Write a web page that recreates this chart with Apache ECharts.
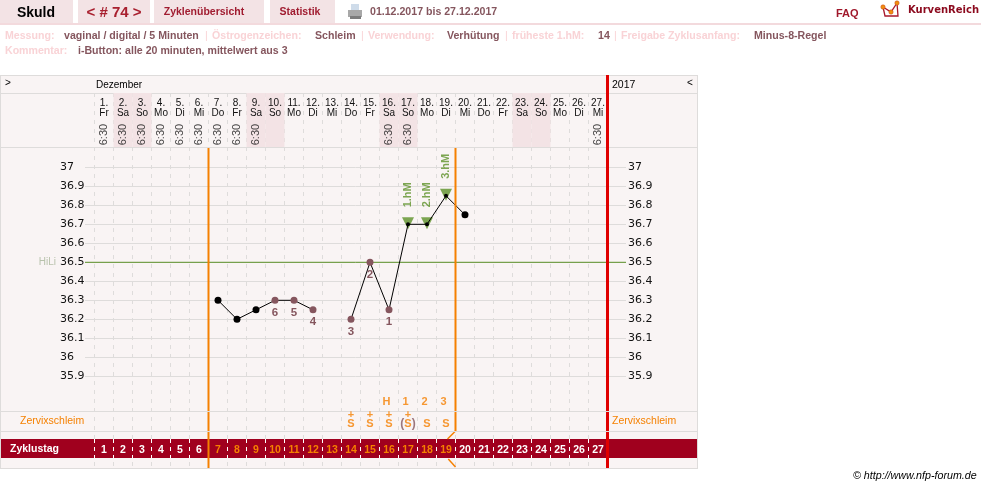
<!DOCTYPE html>
<html>
<head>
    <meta charset="UTF-8">
    <title>Skuld Zyklus 74</title>
    <script src="https://cdn.jsdelivr.net/npm/echarts@6/dist/echarts.min.js"></script>
    <style>
        html, body { margin: 0; padding: 0; background: #fff; }
        #chart { width: 981px; height: 488px; }
    </style>
</head>
<body>
<div id="chart"></div>
<script>
    // data
    var days = [];
    for (var n = 1; n <= 27; n++) days.push(n);
    var weekdays = ['Fr','Sa','So','Mo','Di','Mi','Do','Fr','Sa','So','Mo','Di','Mi','Do','Fr','Sa','So','Mo','Di','Mi','Do','Fr','Sa','So','Mo','Di','Mi'];
    var weekendDays = [2, 3, 9, 10, 16, 17, 23, 24];
    var timeDays = [1, 2, 3, 4, 5, 6, 7, 8, 9, 16, 17, 27];
    var temps = [null, null, null, null, null, null, 36.3, 36.2, 36.25, 36.3, 36.3, 36.25, null, 36.2, 36.5, 36.25, 36.7, 36.7, 36.85, 36.75,
        null, null, null, null, null, null, null];
    var countDays = [10, 11, 12, 14, 15, 16];
    var countLabels = ['6', '5', '4', '3', '2', '1'];
    var hmDays = [17, 18, 19];
    var hmLabels = ['1.hM', '2.hM', '3.hM'];
    var plusDays = [14, 15, 16, 17];
    var mucusDays = [14, 15, 16, 17, 18, 19];
    var peakDays = [16, 17, 18, 19];
    var peakLabels = ['H', '1', '2', '3'];
    var orangeFromDay = 7, orangeToDay = 19;
    var hiLi = 36.5;

    var FONT = '"Liberation Sans", Arial, sans-serif';
    var MAUVE = '#85565e', PALE = '#f9d3d6', ORANGE = '#f58000', GREEN = '#5c9128', RED = '#e00000', DARK = '#a0001e';
    var TAB = '#f3e3e5', LINE = '#dedcdb', BG = '#f9f4f4';

    function txt(x, y, s, size, color, weight, align, extra) {
        var style = { x: x, y: y, text: s, fontSize: size, fill: color, fontWeight: weight || 'normal',
            fontFamily: FONT, textAlign: align || 'left', textVerticalAlign: 'middle' };
        if (extra) for (var k in extra) style[k] = extra[k];
        return { type: 'text', z: 10, style: style };
    }
    function rect(x, y, w, h, color, z) {
        return { type: 'rect', z: z, shape: { x: x, y: y, width: w, height: h }, style: { fill: color } };
    }

    var chrome = [
        rect(0, 75, 698, 394, LINE, -12),
        rect(1, 76, 696, 392, BG, -11),
        rect(0, 93, 698, 1, LINE, -5),
        rect(0, 147, 698, 1, LINE, -5),
        rect(0, 411, 698, 1, LINE, 7),
        rect(0, 431, 698, 1, LINE, 7),
        rect(1, 439, 696, 19, DARK, 1),
        rect(0, 0, 73, 23, TAB, -5),
        rect(78, 0, 72, 23, TAB, -5),
        rect(154, 0, 110, 23, TAB, -5),
        rect(270, 0, 65, 23, TAB, -5),
        rect(0, 23, 981, 2, '#f3dadd', -5),
        // printer icon
        rect(351, 4, 8, 6, '#cfdcea', 3),
        rect(348, 10, 14, 7, '#a8a8a8', 3),
        rect(350, 16, 11, 3, '#7c7c7c', 3),
        // logo
        { type: 'polyline', z: 3, shape: { points: [[883, 7], [885, 16], [898, 16], [897, 3]] }, style: { fill: null, stroke: '#a8182c', lineWidth: 1.3 } },
        { type: 'polyline', z: 3, shape: { points: [[883, 7], [891, 12], [897, 3]] }, style: { fill: null, stroke: '#a8182c', lineWidth: 1.3 } },
        { type: 'circle', z: 4, shape: { cx: 883, cy: 7, r: 2.2 }, style: { fill: '#f09010', stroke: '#c84018', lineWidth: 0.5 } },
        { type: 'circle', z: 4, shape: { cx: 891, cy: 12, r: 2.2 }, style: { fill: '#f09010', stroke: '#c84018', lineWidth: 0.5 } },
        { type: 'circle', z: 4, shape: { cx: 897, cy: 3, r: 2.2 }, style: { fill: '#f09010', stroke: '#c84018', lineWidth: 0.5 } },
        txt(36, 13, 'Skuld', 14, '#000', 'bold', 'center'),
        txt(114, 13, '< # 74 >', 15, '#a8202f', 'bold', 'center'),
        txt(204, 12, 'Zyklenübersicht', 10.5, '#a01c30', 'bold', 'center'),
        txt(300, 12, 'Statistik', 10.5, '#a01c30', 'bold', 'center'),
        txt(370, 12, '01.12.2017 bis 27.12.2017', 10.6, MAUVE, 'bold'),
        txt(836, 14, 'FAQ', 11, '#a0182b', 'bold'),
        txt(908, 10, 'KurvenReich', 10, '#8c0a1e', 'bold', 'left', { fontFamily: '"DejaVu Sans"' }),
        txt(5, 36, 'Messung:', 10.6, PALE, 'bold'),
        txt(64, 36, 'vaginal / digital / 5 Minuten', 10.6, MAUVE, 'bold'),
        txt(205, 36, '|', 10.6, PALE),
        txt(212, 36, 'Östrogenzeichen:', 10.6, PALE, 'bold'),
        txt(315, 36, 'Schleim', 10.6, MAUVE, 'bold'),
        txt(361, 36, '|', 10.6, PALE),
        txt(368, 36, 'Verwendung:', 10.6, PALE, 'bold'),
        txt(447, 36, 'Verhütung', 10.6, MAUVE, 'bold'),
        txt(505, 36, '|', 10.6, PALE),
        txt(512, 36, 'früheste 1.hM:', 10.6, PALE, 'bold'),
        txt(598, 36, '14', 10.6, MAUVE, 'bold'),
        txt(614, 36, '|', 10.6, PALE),
        txt(621, 36, 'Freigabe Zyklusanfang:', 10.6, PALE, 'bold'),
        txt(754, 36, 'Minus-8-Regel', 10.6, MAUVE, 'bold'),
        txt(5, 51, 'Kommentar:', 10.6, PALE, 'bold'),
        txt(78, 51, 'i-Button: alle 20 minuten, mittelwert aus 3', 10.6, MAUVE, 'bold'),
        txt(5, 83, '>', 10, '#000'),
        txt(96, 85, 'Dezember', 10, '#000'),
        txt(612, 85, '2017', 10.5, '#000'),
        txt(687, 83, '<', 10, '#000'),
        txt(20, 421, 'Zervixschleim', 10.5, ORANGE),
        txt(612, 421, 'Zervixschleim', 10.5, ORANGE),
        txt(10, 449.5, 'Zyklustag', 10.5, '#fff', 'bold'),
        txt(853, 476, '© http://www.nfp-forum.de', 10.7, '#000', 'normal', 'left', { fontStyle: 'italic' })
    ];

    var hiddenValue = function (gridIndex, min, max, inverse) {
        return { type: 'value', gridIndex: gridIndex, min: min, max: max, inverse: !!inverse, show: false, splitLine: { show: false } };
    };
    var tempLabel = { fontFamily: '"DejaVu Sans"', fontSize: 11, color: '#111', align: 'left' };

    var tempData = temps.map(function (t, i) {
        var day = i + 1;
        var c = countDays.indexOf(day);
        var hm = hmDays.indexOf(day) >= 0;
        return {
            value: t,
            symbolSize: hm ? 4 : 7,
            itemStyle: { color: c >= 0 ? MAUVE : '#000' },
            label: {
                show: c >= 0, formatter: c >= 0 ? countLabels[c] : '', position: 'bottom', distance: 3,
                color: MAUVE, fontFamily: FONT, fontSize: 11.5, fontWeight: 'bold'
            }
        };
    });

    function dayPos(d) { return d - 0.5; }
    function vline(x, y0, y1, color, width) {
        return { type: 'line', xAxisIndex: 4, yAxisIndex: 5, symbol: 'none', silent: true, z: 6,
            lineStyle: { color: color, width: width }, data: [[x, y0], [x, y1]] };
    }
    function slash(x0, y0, x1, y1) {
        return { type: 'line', xAxisIndex: 4, yAxisIndex: 5, symbol: 'none', silent: true, z: 6,
            lineStyle: { color: ORANGE, width: 1.5 }, data: [[x0, y0], [x1, y1]] };
    }
    function rowLabels(name, xs, y, fmt, extra) {
        var label = { show: true, position: 'inside', formatter: fmt, color: ORANGE, fontFamily: FONT, fontSize: 11, fontWeight: 'bold' };
        if (extra) for (var k in extra) label[k] = extra[k];
        return { type: 'scatter', name: name, xAxisIndex: 4, yAxisIndex: 5, symbolSize: 0, silent: true, z: 8,
            data: xs.map(function (d) { return [dayPos(d), y]; }), label: label };
    }

    var option = {
        animation: false,
        backgroundColor: '#fff',
        graphic: { elements: chrome },
        grid: [
            { left: 85, width: 541, top: 167.3, height: 209 },    // horizontal scale lines
            { left: 94.5, width: 513, top: 167.3, height: 209 },  // temperature curve
            { left: 94.5, width: 513, top: 93, height: 54 },      // date header
            { left: 94.5, width: 513, top: 93, height: 375 },     // dashed day columns
            { left: 94.5, width: 513, top: 75, height: 393 },     // full height rows
            { left: 94.5, width: 513, top: 439, height: 19 }      // Zyklustag
        ],
        xAxis: [
            hiddenValue(0, 0, 1),
            { type: 'category', gridIndex: 1, data: days, show: false },
            {
                type: 'category', gridIndex: 2, data: days, position: 'top', z: 5,
                axisLine: { show: false }, axisTick: { show: false },
                axisLabel: {
                    inside: true, interval: 0, margin: 5, fontFamily: FONT, fontSize: 10, lineHeight: 10, color: '#111',
                    verticalAlign: 'top',
                    formatter: function (v, i) { return v + '.\n' + weekdays[i]; }
                }
            },
            {
                type: 'value', gridIndex: 3, min: 0, max: 27, interval: 1,
                axisLine: { show: false }, axisTick: { show: false }, axisLabel: { show: false },
                splitLine: { show: true, lineStyle: { color: LINE, type: [4, 5], width: 1 } }
            },
            hiddenValue(4, 0, 27),
            {
                type: 'category', gridIndex: 5, data: days, z: 5,
                axisLine: { show: false }, axisTick: { show: false },
                axisLabel: {
                    inside: true, interval: 0, margin: 2, fontFamily: FONT, fontSize: 10.5, fontWeight: 'bold',
                    verticalAlign: 'bottom',
                    color: function (v) { return (+v >= orangeFromDay && +v <= orangeToDay) ? ORANGE : '#fff'; }
                },
                splitLine: { show: true, interval: 0, lineStyle: { color: '#fff', type: [4, 4], width: 1 } }
            }
        ],
        yAxis: [
            {
                type: 'value', gridIndex: 0, min: 35.9, max: 37, interval: 0.1, position: 'left',
                axisLine: { show: false }, axisTick: { show: false },
                axisLabel: Object.assign({ margin: 25 }, tempLabel),
                splitLine: { show: true, lineStyle: { color: LINE, width: 1 } }
            },
            {
                type: 'value', gridIndex: 0, min: 35.9, max: 37, interval: 0.1, position: 'right',
                axisLine: { show: false }, axisTick: { show: false },
                axisLabel: Object.assign({ margin: 2 }, tempLabel),
                splitLine: { show: false }
            },
            hiddenValue(1, 35.9, 37),
            hiddenValue(2, 0, 1),
            hiddenValue(3, 0, 1),
            hiddenValue(4, 75, 468, true),
            hiddenValue(5, 0, 1)
        ],
        series: [
            {
                // weekend shading
                type: 'bar', xAxisIndex: 2, yAxisIndex: 3, barWidth: '100%', silent: true, z: 1,
                itemStyle: { color: TAB },
                data: days.map(function (d) { return weekendDays.indexOf(d) >= 0 ? 1 : 0; })
            },
            {
                // measurement time
                type: 'scatter', xAxisIndex: 2, yAxisIndex: 3, symbolSize: 0, silent: true, z: 4,
                data: timeDays.map(function (d) { return [d - 1, 0.23]; }),
                label: { show: true, position: 'inside', rotate: 90, formatter: '6:30', fontFamily: FONT, fontSize: 11, color: '#111' }
            },
            {
                // HiLi
                type: 'line', xAxisIndex: 0, yAxisIndex: 0, symbol: 'none', silent: true, z: 2,
                lineStyle: { color: GREEN, width: 1 },
                data: [[0, hiLi], [1, hiLi]]
            },
            {
                type: 'scatter', xAxisIndex: 0, yAxisIndex: 0, symbolSize: 0, silent: true, z: 2,
                data: [[0, hiLi]],
                label: { show: true, position: 'left', distance: 29, formatter: 'HiLi', fontFamily: FONT, fontSize: 10, color: '#a7b59a' }
            },
            vline(6, 148, 468, ORANGE, 2),
            vline(19, 148, 431, ORANGE, 2),
            vline(27, 75, 468, RED, 3),
            slash(19, 431, 18.58, 439),
            slash(18.62, 459, 19, 467),
            {
                // 1.hM .. 3.hM triangles
                type: 'scatter', xAxisIndex: 1, yAxisIndex: 2, symbol: 'triangle', symbolRotate: 180, symbolSize: 12, symbolOffset: [0, -1], silent: true, z: 4,
                itemStyle: { color: GREEN },
                data: hmDays.map(function (d, i) {
                    return {
                        value: [d - 1, temps[d - 1]],
                        label: {
                            show: true, formatter: hmLabels[i], position: 'top', distance: 10, rotate: 90,
                            align: 'left', verticalAlign: 'middle',
                            color: GREEN, fontFamily: FONT, fontSize: 11, fontWeight: 'bold'
                        }
                    };
                })
            },
            {
                // temperature
                type: 'line', xAxisIndex: 1, yAxisIndex: 2, symbol: 'circle', connectNulls: false, silent: true, z: 5,
                lineStyle: { color: '#000', width: 1 },
                data: tempData
            },
            rowLabels('peak', peakDays, 402, function (p) { return peakLabels[p.dataIndex]; }, { offset: [-2.5, 0] }),
            rowLabels('plus', plusDays, 414.5, '+'),
            rowLabels('mucus', mucusDays, 424, function (p) {
                return mucusDays[p.dataIndex] === 17 ? '{p|(}{s|S}{p|)}' : '{s|S}';
            }, { rich: {
                p: { color: MAUVE, fontFamily: FONT, fontSize: 12 },
                s: { color: ORANGE, fontFamily: FONT, fontSize: 11, fontWeight: 'bold' }
            } })
        ]
    };

    var chart = echarts.init(document.getElementById('chart'));
    chart.setOption(option);
</script>
</body>
</html>
